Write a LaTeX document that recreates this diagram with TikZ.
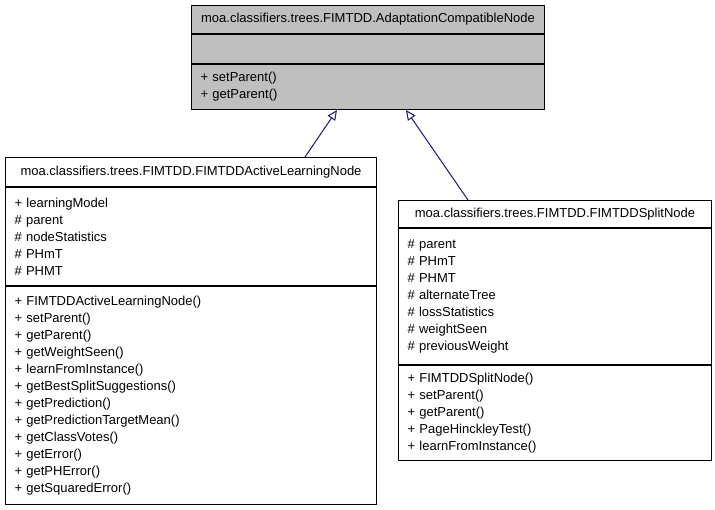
\documentclass[tikz,border=0pt]{standalone}
\usepackage{fontspec}
\setmainfont{Liberation Sans}
\usetikzlibrary{positioning,arrows.meta}

\definecolor{boxgray}{HTML}{BFBFBF}
\definecolor{edgeblue}{HTML}{191970}

\tikzset{
  classpart/.style={draw=black, line width=1pt, rectangle, inner ysep=0pt,
    font=\fontsize{13}{17}\selectfont},
  classtitle/.style={classpart, inner xsep=2pt},
  classbody/.style={classpart, inner xsep=9pt, align=left},
  inherit/.style={draw=edgeblue, line width=1pt,
    -{Triangle[open, length=10pt, width=9pt, fill=white]}}
}

\begin{document}
\begin{tikzpicture}[x=1pt, y=-1pt]
  \useasboundingbox (0,0) rectangle (715,509);

  % Base class
  \node[classtitle, fill=boxgray, anchor=north west, minimum width=353pt, minimum height=28pt]
    (acnTitle) at (191,5) {moa.classifiers.trees.FIMTDD.AdaptationCompatibleNode};
  \node[classpart, fill=boxgray, below=0pt of acnTitle, minimum width=353pt, minimum height=29pt]
    (acnAttrs) {};
  \node[classbody, fill=boxgray, below=0pt of acnAttrs, text width=335pt, minimum height=45pt]
    (acnMethods) {+ setParent()\\+ getParent()};

  % Active learning node
  \node[classtitle, anchor=north west, minimum width=371pt, minimum height=29pt]
    (alnTitle) at (5,157) {moa.classifiers.trees.FIMTDD.FIMTDDActiveLearningNode};
  \node[classbody, below=0pt of alnTitle, text width=353pt, minimum height=98pt]
    (alnAttrs) {+ learningModel\\\# parent\\\# nodeStatistics\\\# PHmT\\\# PHMT};
  \node[classbody, below=0pt of alnAttrs, text width=353pt, minimum height=218pt]
    (alnMethods) {+ FIMTDDActiveLearningNode()\\+ setParent()\\+ getParent()\\+ getWeightSeen()\\
      + learnFromInstance()\\+ getBestSplitSuggestions()\\+ getPrediction()\\
      + getPredictionTargetMean()\\+ getClassVotes()\\+ getError()\\+ getPHError()\\
      + getSquaredError()};

  % Split node
  \node[classtitle, anchor=north west, minimum width=313pt, minimum height=27pt]
    (splTitle) at (398,200) {moa.classifiers.trees.FIMTDD.FIMTDDSplitNode};
  \node[classbody, below=0pt of splTitle, text width=295pt, minimum height=136pt]
    (splAttrs) {\# parent\\\# PHmT\\\# PHMT\\\# alternateTree\\\# lossStatistics\\
      \# weightSeen\\\# previousWeight};
  \node[classbody, below=0pt of splAttrs, text width=295pt, minimum height=95pt]
    (splMethods) {+ FIMTDDSplitNode()\\+ setParent()\\+ getParent()\\+ PageHinckleyTest()\\
      + learnFromInstance()};

  % Inheritance
  \draw[inherit] ([xshift=300pt]alnTitle.north west) -- ([xshift=146pt]acnMethods.south west);
  \draw[inherit] ([xshift=70pt]splTitle.north west) -- ([xshift=215pt]acnMethods.south west);
\end{tikzpicture}
\end{document}
